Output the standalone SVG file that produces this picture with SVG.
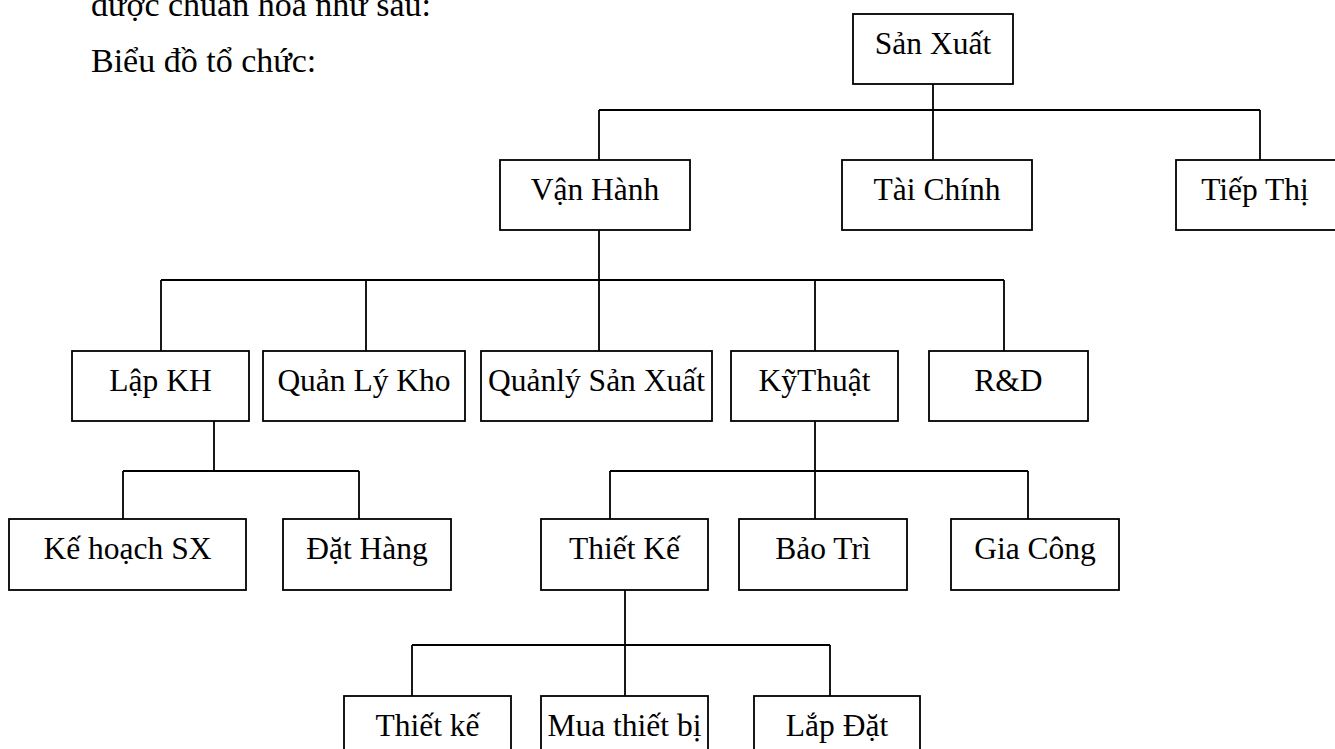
<svg xmlns="http://www.w3.org/2000/svg" width="1335" height="749" viewBox="0 0 1335 749">
<style>
.box{fill:#fff;stroke:#000;stroke-width:1.8}
.lbl{font-family:"Liberation Serif","Times New Roman",serif;font-size:31.5px;fill:#000;text-anchor:middle}
.body{font-family:"Liberation Serif","Times New Roman",serif;font-size:34px;fill:#000}
.conn{fill:none;stroke:#000;stroke-width:1.8}
</style>
<rect width="1335" height="749" fill="#fff"/>
<text class="body" x="91" y="16">được chuẩn hoá như sau:</text>
<text class="body" x="91" y="72">Biểu đồ tổ chức:</text>
<g id="connectors" class="conn">
<path d="M933 84V110M599 110H1260M599 110V160M933 110V160M1260 110V160"/>
<path d="M599 230V280M161 280H1004M161 280V351M366 280V351M599 280V351M815 280V351M1004 280V351"/>
<path d="M214 421V471M123 471H359M123 471V519M359 471V519"/>
<path d="M815 421V471M610 471H1028M610 471V519M815 471V519M1028 471V519"/>
<path d="M625 590V645M412 645H830M412 645V696M625 645V696M830 645V696"/>
</g>
<g id="san-xuat"><rect class="box" x="853" y="14" width="160" height="70"/><text class="lbl" x="933" y="54">Sản Xuất</text></g>
<g id="van-hanh"><rect class="box" x="500" y="160" width="190" height="70"/><text class="lbl" x="595" y="200">Vận Hành</text></g>
<g id="tai-chinh"><rect class="box" x="842" y="160" width="190" height="70"/><text class="lbl" x="937" y="200">Tài Chính</text></g>
<g id="tiep-thi"><rect class="box" x="1176" y="160" width="162" height="70"/><text class="lbl" x="1255" y="200">Tiếp Thị</text></g>
<g id="lap-kh"><rect class="box" x="72" y="351" width="177" height="70"/><text class="lbl" x="160.5" y="391">Lập KH</text></g>
<g id="quan-ly-kho"><rect class="box" x="263" y="351" width="202" height="70"/><text class="lbl" x="364" y="391">Quản Lý Kho</text></g>
<g id="quan-ly-san-xuat"><rect class="box" x="481" y="351" width="231" height="70"/><text class="lbl" x="596.5" y="391">Quảnlý Sản Xuất</text></g>
<g id="ky-thuat"><rect class="box" x="731" y="351" width="167" height="70"/><text class="lbl" x="814.5" y="391">KỹThuật</text></g>
<g id="r-d"><rect class="box" x="929" y="351" width="159" height="70"/><text class="lbl" x="1008.5" y="391">R&amp;D</text></g>
<g id="ke-hoach-sx"><rect class="box" x="9" y="519" width="237" height="71"/><text class="lbl" x="127.5" y="559">Kế hoạch SX</text></g>
<g id="dat-hang"><rect class="box" x="283" y="519" width="168" height="71"/><text class="lbl" x="367" y="559">Đặt Hàng</text></g>
<g id="thiet-ke"><rect class="box" x="541" y="519" width="167" height="71"/><text class="lbl" x="624.5" y="559">Thiết Kế</text></g>
<g id="bao-tri"><rect class="box" x="739" y="519" width="168" height="71"/><text class="lbl" x="823" y="559">Bảo Trì</text></g>
<g id="gia-cong"><rect class="box" x="951" y="519" width="168" height="71"/><text class="lbl" x="1035" y="559">Gia Công</text></g>
<g id="thiet-ke-2"><rect class="box" x="344" y="696" width="167" height="70"/><text class="lbl" x="427.5" y="736">Thiết kế</text></g>
<g id="mua-thiet-bi"><rect class="box" x="541" y="696" width="167" height="70"/><text class="lbl" x="624.5" y="736">Mua thiết bị</text></g>
<g id="lap-dat"><rect class="box" x="754" y="696" width="166" height="70"/><text class="lbl" x="837" y="736">Lắp Đặt</text></g>
</svg>
